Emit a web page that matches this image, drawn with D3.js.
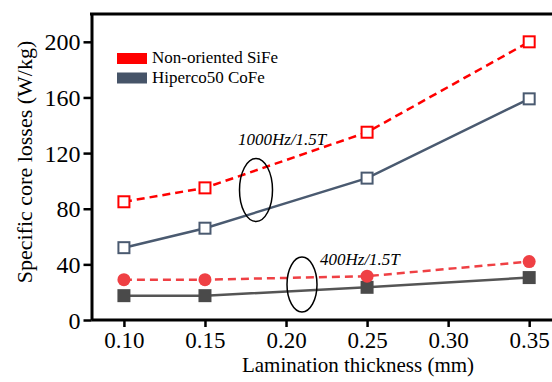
<!DOCTYPE html>
<html>
<head>
<meta charset="utf-8">
<script src="https://cdn.jsdelivr.net/npm/d3@7"></script>
<style>
  body { margin: 0; background: #fff; }
</style>
</head>
<body>
<script>
// Chart data
var thickness = [0.10, 0.15, 0.25, 0.35];
var sife1000 = [85, 95, 135, 200];
var cofe1000 = [52, 66, 102, 159];
var sife400 = [29, 29, 31.5, 42];
var cofe400 = [17.5, 17.5, 23.5, 30.5];
var xTicks = [0.10, 0.15, 0.20, 0.25, 0.30, 0.35];
var yTicks = [0, 40, 80, 120, 160, 200];
var legendNames = ["Non-oriented SiFe", "Hiperco50 CoFe"];

var serif = "Liberation Serif";
var svgWidth = 552;
var svgHeight = 382;

var svg = d3.select("body")
  .append("svg")
  .attr("width", svgWidth)
  .attr("height", svgHeight)
  .style("font-family", serif);

var xScale = d3.scaleLinear()
  .domain([0.08, 0.365])
  .range([91.5, 553.5]);

var yScale = d3.scaleLinear()
  .domain([0, 220])
  .range([320, 14]);

// Axes
var xAxis = d3.axisBottom(xScale)
  .tickValues(xTicks)
  .tickFormat(d3.format(".2f"))
  .tickSize(7)
  .tickSizeOuter(0);
var yAxis = d3.axisLeft(yScale)
  .tickValues(yTicks)
  .tickSize(8)
  .tickSizeOuter(0);

var gx = svg.append("g")
  .attr("transform", "translate(0, 320)")
  .call(xAxis);
var gy = svg.append("g")
  .attr("transform", "translate(91.5, 0)")
  .call(yAxis);

[gx, gy].forEach(function(g) {
  g.attr("font-family", serif);
  g.select(".domain").attr("stroke", "#000").attr("stroke-width", 3);
  g.selectAll(".tick line").attr("stroke", "#000").attr("stroke-width", 2.5);
  g.selectAll(".tick text")
    .attr("fill", "#000")
    .style("font-size", "24px")
    .style("font-family", serif);
});
gx.select(".domain").attr("d", "M91.5,0H552");
gx.selectAll(".tick text").style("font-size", "23px").attr("dy", "0").attr("y", 28);
gy.selectAll(".tick text").attr("x", -11).attr("dy", "0.34em");

// top frame line
svg.append("line")
  .attr("x1", 90).attr("x2", 552)
  .attr("y1", 14).attr("y2", 14)
  .attr("stroke", "#000").attr("stroke-width", 3);

// Axis titles
svg.append("text")
  .attr("x", 358)
  .attr("y", 372)
  .attr("text-anchor", "middle")
  .style("font-family", serif)
  .style("font-size", "21px")
  .text("Lamination thickness (mm)");

svg.append("text")
  .attr("transform", "translate(32, 162) rotate(-90)")
  .attr("text-anchor", "middle")
  .style("font-family", serif)
  .style("font-size", "22px")
  .text("Specific core losses (W/kg)");

var line = d3.line()
  .x(function(d) { return xScale(d[0]); })
  .y(function(d) { return yScale(d[1]); });

function pairs(vals) {
  return thickness.map(function(t, i) { return [t, vals[i]]; });
}

// 400 Hz series
svg.append("path")
  .attr("d", line(pairs(cofe400)))
  .attr("fill", "none")
  .attr("stroke", "#555")
  .attr("stroke-width", 2.5);

svg.append("path")
  .attr("d", line(pairs(sife400)))
  .attr("fill", "none")
  .attr("stroke", "#ef4044")
  .attr("stroke-width", 2.5)
  .attr("stroke-dasharray", "8,5");

svg.selectAll(".sq400")
  .data(pairs(cofe400))
  .enter()
  .append("rect")
  .attr("class", "sq400")
  .attr("x", function(d) { return xScale(d[0]) - 6.5; })
  .attr("y", function(d) { return yScale(d[1]) - 6.5; })
  .attr("width", 13)
  .attr("height", 13)
  .attr("fill", "#4a4a4a");

svg.selectAll(".dot400")
  .data(pairs(sife400))
  .enter()
  .append("circle")
  .attr("class", "dot400")
  .attr("cx", function(d) { return xScale(d[0]); })
  .attr("cy", function(d) { return yScale(d[1]); })
  .attr("r", 6.5)
  .attr("fill", "#ef4044");

// 1000 Hz series
svg.append("path")
  .attr("d", line(pairs(cofe1000)))
  .attr("fill", "none")
  .attr("stroke", "#4a5a70")
  .attr("stroke-width", 2.5);

svg.append("path")
  .attr("d", line(pairs(sife1000)))
  .attr("fill", "none")
  .attr("stroke", "#ff0000")
  .attr("stroke-width", 2.5)
  .attr("stroke-dasharray", "8,5");

svg.selectAll(".sqCo")
  .data(pairs(cofe1000))
  .enter()
  .append("rect")
  .attr("class", "sqCo")
  .attr("x", function(d) { return xScale(d[0]) - 5.5; })
  .attr("y", function(d) { return yScale(d[1]) - 5.5; })
  .attr("width", 11)
  .attr("height", 11)
  .attr("fill", "#fff")
  .attr("stroke", "#4a5a70")
  .attr("stroke-width", 2);

svg.selectAll(".sqSi")
  .data(pairs(sife1000))
  .enter()
  .append("rect")
  .attr("class", "sqSi")
  .attr("x", function(d) { return xScale(d[0]) - 5.5; })
  .attr("y", function(d) { return yScale(d[1]) - 5.5; })
  .attr("width", 11)
  .attr("height", 11)
  .attr("fill", "#fff")
  .attr("stroke", "#ff0000")
  .attr("stroke-width", 2);

// Ellipses and annotations
svg.append("ellipse")
  .attr("cx", 256).attr("cy", 190)
  .attr("rx", 16.5).attr("ry", 31.5)
  .attr("fill", "none").attr("stroke", "#000").attr("stroke-width", 1.5);

svg.append("ellipse")
  .attr("cx", 302).attr("cy", 284.5)
  .attr("rx", 15).attr("ry", 27.5)
  .attr("fill", "none").attr("stroke", "#000").attr("stroke-width", 1.5);

svg.append("text")
  .attr("x", 238).attr("y", 145)
  .style("font-family", serif)
  .style("font-size", "17px")
  .style("font-style", "italic")
  .text("1000Hz/1.5T");

svg.append("text")
  .attr("x", 320).attr("y", 265)
  .style("font-family", serif)
  .style("font-size", "17px")
  .style("font-style", "italic")
  .text("400Hz/1.5T");

// Legend
var legendColors = ["#ff0000", "#465468"];
var legend = svg.selectAll(".legend")
  .data(legendNames)
  .enter()
  .append("g")
  .attr("class", "legend")
  .attr("transform", function(d, i) { return "translate(117, " + (53 + i * 19.5) + ")"; });

legend.append("rect")
  .attr("width", 30)
  .attr("height", 11)
  .attr("fill", function(d, i) { return legendColors[i]; });

legend.append("text")
  .attr("x", 35)
  .attr("y", 10)
  .style("font-family", serif)
  .style("font-size", "17px")
  .text(function(d) { return d; });
</script>
</body>
</html>
